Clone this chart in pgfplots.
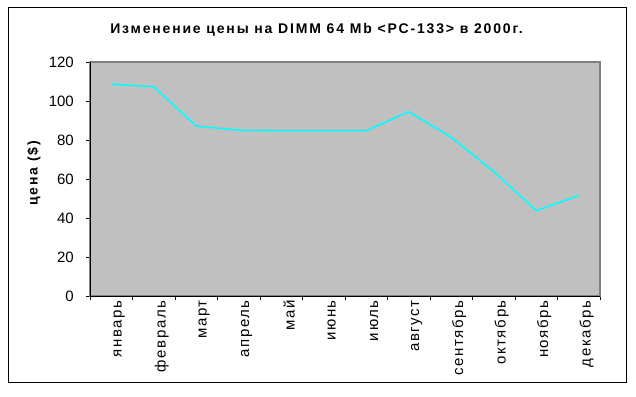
\documentclass[border=0pt]{standalone}
\usepackage{fontspec}
\setmainfont{Liberation Sans}
\newfontfamily\titlefont[LetterSpace=13]{Liberation Sans}
\newfontfamily\labfont[LetterSpace=11]{Liberation Sans}
\usepackage{pgfplots}
\pgfplotsset{compat=1.18}
\definecolor{plotgray}{HTML}{C0C0C0}
\definecolor{framegray}{HTML}{808080}
\definecolor{linecyan}{HTML}{00FFFF}
\begin{document}
\begin{tikzpicture}[x=1pt,y=1pt]
\useasboundingbox (0,0) rectangle (636,396);
\draw[black, line width=1pt] (8,14) rectangle (626,388);
\begin{axis}[
  at={(90pt,100pt)}, anchor=south west,
  scale only axis, width=510pt, height=234pt,
  xmin=0.5, xmax=12.5, ymin=0, ymax=120,
  axis background/.style={fill=plotgray},
  axis line style={framegray, line width=1.2pt},
  xtick={0.5,1.5,...,12.5},
  xticklabels={январь,февраль,март,апрель,май,июнь,июль,август,сентябрь,октябрь,ноябрь,декабрь},
  x tick label as interval,
  ytick={0,20,...,120},
  tick align=outside, xtick pos=bottom, ytick pos=left,
  major tick length=4pt,
  tick style={black, line width=0.8pt},
  /pgf/number format/assume math mode=true,
  tick label style={font=\fontsize{15}{17}\selectfont},
  xticklabel style={font=\labfont\fontsize{15}{17}\selectfont, rotate=90, anchor=east, inner sep=0pt, yshift=-8pt},
  yticklabel style={inner sep=0pt, xshift=-12pt},
  clip=false,
]
\addplot[linecyan, line width=1.6pt] coordinates {
(1,108.7) (2,107.3) (3,87.2) (4,85) (5,84.8) (6,84.8) (7,84.8) (8,94.5) (9,81.4) (10,63.8) (11,43.8) (12,51.5)
};
\draw[black, line width=0.8pt] (rel axis cs:0,1) -- (rel axis cs:0,0) -- (rel axis cs:1,0);
\end{axis}
\node[font=\titlefont\bfseries\fontsize{14}{16}\selectfont] at (316.5,366) {Изменение цены на DIMM 64 Mb <PC-133> в 2000г.};
\node[font=\titlefont\bfseries\fontsize{14}{16}\selectfont, rotate=90] at (34,222.5) {цена (\$)};
\end{tikzpicture}
\end{document}
